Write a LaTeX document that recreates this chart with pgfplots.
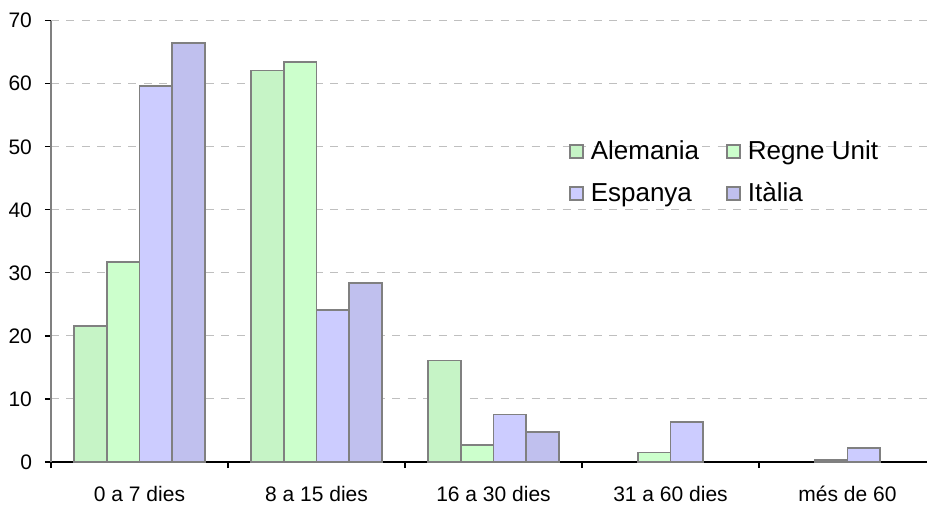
\documentclass[border=0pt]{standalone}
\usepackage{fontspec}
\setmainfont{Liberation Sans}
\usepackage{pgfplots}
\pgfplotsset{compat=1.18}

\definecolor{alem}{HTML}{C6F4C6}
\definecolor{regne}{HTML}{CCFFCC}
\definecolor{esp}{HTML}{CCCCFF}
\definecolor{ital}{HTML}{C0C0EE}
\definecolor{edge}{HTML}{808080}

\pgfplotsset{sqleg/.style={legend image code/.code={\draw[##1] (0pt,-3.25pt) rectangle (6.5pt,3.25pt);}}}

\begin{document}
\begin{tikzpicture}
\useasboundingbox (-25.5pt,-21pt) rectangle (438pt,231pt);
\begin{axis}[
    at={(0,0)}, anchor=south west,
    scale only axis,
    width=438pt, height=220.65pt,
    ybar=0pt, bar width=0.185,
    xmin=-0.5, xmax=4.449,
    ymin=0, ymax=70,
    axis x line*=bottom, axis y line*=left,
    x axis line style={black, line width=0.6pt},
    y axis line style={edge, line width=0.6pt},
    xtick={0,1,2,3,4},
    xticklabels={0 a 7 dies, 8 a 15 dies, 16 a 30 dies, 31 a 60 dies, més de 60},
    minor xtick={-0.5,0.5,1.5,2.5,3.5},
    major x tick style={draw=none},
    minor x tick style={black, line width=0.6pt},
    ytick={0,10,...,70},
    y tick style={black, line width=0.6pt},
    tick align=outside,
    major tick length=3pt, minor tick length=3pt,
    ymajorgrids=true,
    grid style={dash pattern=on 4pt off 3.75pt, color=black!25, line width=0.5pt},
    /pgf/number format/assume math mode=true,
    tick label style={font=\fontsize{10.5}{12}\selectfont},
    xticklabel style={inner sep=0pt, yshift=-9pt},
    yticklabel style={xshift=-3pt},
    every axis plot/.append style={draw=edge, line width=0.9pt},
    legend columns=2,
    legend cell align=left,
    legend style={draw=none, fill=none, at={(0.584,0.745)}, anchor=north west,
        font=\fontsize{13}{15}\selectfont, row sep=7pt,
        /tikz/every odd column/.append style={column sep=2pt},
        /tikz/every even column/.append style={column sep=12pt},
        nodes={inner sep=1.5pt}},
]
\addplot[fill=alem, sqleg] coordinates {(0,21.6) (1,62.1) (2,16.1)};
\addlegendentry{Alemania}
\addplot[fill=regne, sqleg] coordinates {(0,31.7) (1,63.4) (2,2.75) (3,1.5) (4,0.3)};
\addlegendentry{Regne Unit}
\addplot[fill=esp, sqleg] coordinates {(0,59.6) (1,24.05) (2,7.55) (3,6.3) (4,2.2)};
\addlegendentry{Espanya}
\addplot[fill=ital, sqleg] coordinates {(0,66.5) (1,28.45) (2,4.7)};
\addlegendentry{Itàlia}
\end{axis}
\end{tikzpicture}
\end{document}
